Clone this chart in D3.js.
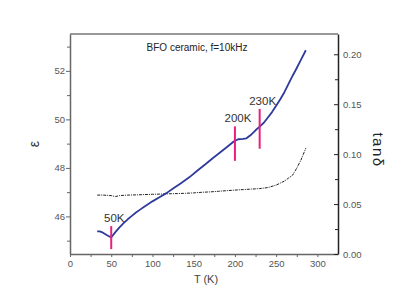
<!DOCTYPE html>
<html>
<head>
<meta charset="utf-8">
<script src="https://cdn.jsdelivr.net/npm/d3@7"></script>
<style>
  body { margin: 0; background: #fff; }
  text { font-family: "Liberation Sans", Arial, sans-serif; }
</style>
</head>
<body>
<div id="chart"></div>
<script>
// temperature (K) and permittivity of the blue curve
var epsT = [33, 36, 40, 45, 50, 55, 60, 65, 70, 75, 80, 85, 90, 100, 110, 117, 125, 135, 145, 155, 165, 173, 180, 190, 199, 204, 210, 214, 220, 225, 230, 235, 240, 245, 250, 255, 260, 265, 270, 275, 280, 286];
var epsVal = [45.38, 45.38, 45.33, 45.22, 45.13, 45.35, 45.55, 45.72, 45.88, 46.02, 46.16, 46.28, 46.40, 46.62, 46.82, 46.96, 47.15, 47.38, 47.62, 47.90, 48.17, 48.40, 48.58, 48.85, 49.10, 49.18, 49.20, 49.22, 49.38, 49.55, 49.70, 49.86, 50.08, 50.30, 50.56, 50.83, 51.12, 51.46, 51.80, 52.12, 52.45, 52.85];

// loss tangent (dotted curve)
var lossT = [33, 40, 50, 55, 60, 70, 80, 90, 100, 110, 120, 130, 140, 150, 160, 170, 180, 190, 200, 210, 220, 230, 240, 250, 255, 260, 265, 270, 275, 280, 286];
var lossVal = [0.059, 0.059, 0.0585, 0.0575, 0.0585, 0.059, 0.0592, 0.0595, 0.0598, 0.060, 0.0603, 0.0605, 0.0608, 0.0612, 0.0618, 0.0622, 0.0628, 0.0634, 0.064, 0.0645, 0.065, 0.0655, 0.0665, 0.069, 0.071, 0.073, 0.076, 0.079, 0.086, 0.094, 0.106];

// marked transitions
var markT = [50, 200, 230];
var markLo = [44.65, 48.29, 48.79];
var markHi = [45.6, 49.71, 50.43];
var markLabels = ["50K", "200K", "230K"];

var xTicks = [0, 50, 100, 150, 200, 250, 300];
var yTicks = [46, 48, 50, 52];
var y2Ticks = [0, 0.05, 0.10, 0.15, 0.20];

var width = 415, height = 305;
var pLeft = 70, pRight = 338, pTop = 34, pBottom = 254;

var x = d3.scaleLinear().domain([0, 325]).range([pLeft, pRight]);
var y = d3.scaleLinear().domain([44.45, 53.52]).range([pBottom, pTop]);
var y2 = d3.scaleLinear().domain([0, 0.2203]).range([pBottom, pTop]);

var svg = d3.select("#chart").append("svg")
  .attr("width", width)
  .attr("height", height);

// frame top
svg.append("line")
  .attr("x1", pLeft).attr("x2", pRight)
  .attr("y1", pTop).attr("y2", pTop)
  .attr("stroke", "#777").attr("stroke-width", 1.5);

function styleAxis(g, col) {
  g.select(".domain").attr("stroke", col).attr("stroke-width", 1.5);
  g.selectAll(".tick line").attr("stroke", col);
  g.selectAll(".tick text").attr("fill", "#555").style("font-size", "9.5px");
}

// minor ticks first so majors sit on top
svg.append("g")
  .attr("transform", "translate(0," + pBottom + ")")
  .call(d3.axisBottom(x).tickValues(d3.range(25, 325, 50)).tickSize(3).tickFormat(""))
  .call(function (g) { g.select(".domain").remove(); g.selectAll("line").attr("stroke", "#666"); });
svg.append("g")
  .attr("transform", "translate(" + pLeft + ",0)")
  .call(d3.axisLeft(y).tickValues([45, 47, 49, 51, 53]).tickSize(3).tickFormat(""))
  .call(function (g) { g.select(".domain").remove(); g.selectAll("line").attr("stroke", "#666"); });
svg.append("g")
  .attr("transform", "translate(" + pRight + ",0)")
  .call(d3.axisLeft(y2).tickValues([0.025, 0.075, 0.125, 0.175]).tickSize(3).tickFormat(""))
  .call(function (g) { g.select(".domain").remove(); g.selectAll("line").attr("stroke", "#222"); });

svg.append("g")
  .attr("transform", "translate(0," + pBottom + ")")
  .call(d3.axisBottom(x).tickValues(xTicks).tickSize(3).tickPadding(3).tickSizeOuter(0))
  .call(styleAxis, "#666");

svg.append("g")
  .attr("transform", "translate(" + pLeft + ",0)")
  .call(d3.axisLeft(y).tickValues(yTicks).tickSize(4).tickPadding(1).tickSizeOuter(0))
  .call(styleAxis, "#666");

var ax2 = svg.append("g")
  .attr("transform", "translate(" + pRight + ",0)")
  .call(d3.axisRight(y2).tickValues(y2Ticks).tickFormat(d3.format(".2f")).tickSizeOuter(0).tickSize(0).tickPadding(5))
  .call(styleAxis, "#222");
ax2.selectAll(".tick").append("line")
  .attr("x1", -4).attr("x2", 0).attr("stroke", "#222");

// loss curve
var lossLine = d3.line()
  .x(function (d, i) { return x(lossT[i]); })
  .y(function (d) { return y2(d); });
svg.append("path")
  .datum(lossVal)
  .attr("d", lossLine)
  .attr("fill", "none")
  .attr("stroke", "#222")
  .attr("stroke-width", 1)
  .attr("stroke-dasharray", "3,1,1,1");

// permittivity curve
var epsLine = d3.line()
  .x(function (d, i) { return x(epsT[i]); })
  .y(function (d) { return y(d); });
svg.append("path")
  .datum(epsVal)
  .attr("d", epsLine)
  .attr("fill", "none")
  .attr("stroke", "#2e3a9c")
  .attr("stroke-width", 1.8)
  .attr("stroke-linejoin", "round");

// markers
var marks = svg.selectAll(".mark").data(markT).enter().append("g").attr("class", "mark");
marks.append("line")
  .attr("x1", function (d) { return x(d); })
  .attr("x2", function (d) { return x(d); })
  .attr("y1", function (d, i) { return y(markLo[i]); })
  .attr("y2", function (d, i) { return y(markHi[i]); })
  .attr("stroke", "#e8207a")
  .attr("stroke-width", 2);
marks.append("text")
  .attr("x", function (d) { return x(d) + 3; })
  .attr("y", function (d, i) { return y(markHi[i]) - 4; })
  .attr("text-anchor", "middle")
  .attr("fill", "#333")
  .style("font-size", "11.5px")
  .text(function (d, i) { return markLabels[i]; });

// titles
svg.append("text")
  .attr("x", 197).attr("y", 51)
  .attr("text-anchor", "middle")
  .attr("fill", "#222")
  .style("font-size", "10px")
  .text("BFO ceramic, f=10kHz");

svg.append("text")
  .attr("x", 206).attr("y", 283)
  .attr("text-anchor", "middle")
  .attr("fill", "#444")
  .style("font-size", "11px")
  .text("T (K)");

svg.append("text")
  .attr("transform", "translate(39,144) rotate(-90)")
  .attr("text-anchor", "middle")
  .attr("fill", "#333")
  .style("font-size", "14px")
  .text("ε");

svg.append("text")
  .attr("transform", "translate(373,150) rotate(90)")
  .attr("text-anchor", "middle")
  .attr("fill", "#222")
  .style("font-size", "15px")
  .style("letter-spacing", "1.5px")
  .text("tanδ");
</script>
</body>
</html>
